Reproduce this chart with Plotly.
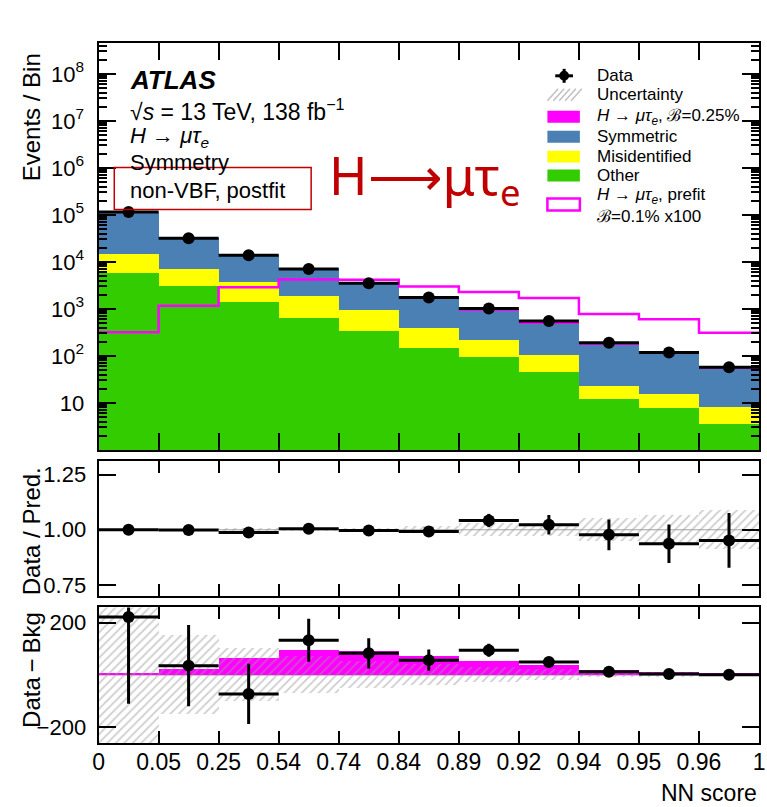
import numpy as np
import plotly.graph_objects as go

# ---------------- data ----------------
edge_labels = ["0", "0.05", "0.25", "0.54", "0.74", "0.84", "0.89", "0.92", "0.94", "0.95", "0.96", "1"]

data_events = [115000, 32000, 13900, 7100, 3500, 1740, 1020, 550, 190, 118, 57]
other = [5900, 3100, 1400, 630, 340, 150, 97, 46, 12, 7.9, 3.6]
misidentified = [9100, 4000, 2400, 1270, 610, 250, 118, 57, 11, 7.9, 4.5]
symmetric = [100000, 24900, 10200, 5070, 2470, 1284, 712, 397, 155, 100, 47]
signal_postfit = [2.5, 23, 63, 95, 91, 70, 52, 38, 16.5, 10, 5]
signal_prefit_x100 = [320, 1170, 2900, 4200, 4150, 3000, 2300, 1700, 780, 600, 310]

ratio = [1.000, 0.999, 0.988, 1.005, 0.997, 0.992, 1.042, 1.023, 0.977, 0.937, 0.952]
ratio_err = [0.003, 0.006, 0.009, 0.012, 0.017, 0.024, 0.030, 0.044, 0.070, 0.087, 0.124]
ratio_unc = [0.004, 0.004, 0.008, 0.006, 0.008, 0.015, 0.030, 0.030, 0.053, 0.065, 0.089]

data_minus_bkg = [222, 36, -72, 133, 83, 57, 95, 50, 13, 4, 1]
data_minus_bkg_err = [332, 155, 115, 82, 58, 41, 25, 12, 6, 4, 3]
bkg_unc = [400, 150, 100, 72, 50, 40, 28, 22, 11, 9, 6]

# ---------------- helpers ----------------
W, H = 767, 807
def px(x):
    return x / W
def py(y):
    return 1 - y / H

nb = len(data_events)
centers = np.arange(nb) + 0.5
edges = np.arange(nb + 1)
other_a = np.array(other, float)
mis_a = np.array(misidentified, float)
sym_a = np.array(symmetric, float)

FONT = "Liberation Sans, Arial, Helvetica, sans-serif"
MAGENTA = "#FF00FF"
BLUE = "#4A80B4"
YELLOW = "#FFFF00"
GREEN = "#33CC00"
HATCH = "#9C9C9C"
RED = "#C00000"

fig = go.Figure()

# ---------------- main panel ----------------
fig.add_trace(go.Bar(x=centers, y=other, width=1, marker=dict(color=GREEN, line=dict(width=0)),
                     xaxis="x", yaxis="y", showlegend=False))
fig.add_trace(go.Bar(x=centers, y=misidentified, base=other_a, width=1,
                     marker=dict(color=YELLOW, line=dict(width=0)), xaxis="x", yaxis="y", showlegend=False))
fig.add_trace(go.Bar(x=centers, y=symmetric, base=other_a + mis_a, width=1,
                     marker=dict(color=BLUE, line=dict(width=0)), xaxis="x", yaxis="y", showlegend=False))
fig.add_trace(go.Bar(x=centers, y=signal_postfit, base=other_a + mis_a + sym_a, width=1,
                     marker=dict(color=MAGENTA, line=dict(width=0)), xaxis="x", yaxis="y", showlegend=False))
fig.add_trace(go.Scatter(x=edges, y=list(signal_prefit_x100) + [signal_prefit_x100[-1]], mode="lines",
                         line=dict(color=MAGENTA, width=2.5, shape="hv"), xaxis="x", yaxis="y", showlegend=False))
fig.add_trace(go.Scatter(x=centers, y=data_events, mode="markers",
                         marker=dict(color="black", size=12),
                         error_x=dict(type="constant", value=0.5, thickness=3, width=0, color="black"),
                         xaxis="x", yaxis="y", showlegend=False))

# ---------------- ratio panel ----------------
ru = np.array(ratio_unc)
fig.add_trace(go.Bar(x=centers, y=2 * ru, base=1 - ru, width=1,
                     marker=dict(color="rgba(0,0,0,0)", line=dict(width=0),
                                 pattern=dict(shape="/", fgcolor=HATCH, bgcolor="rgba(0,0,0,0)",
                                              size=6, solidity=0.3)),
                     xaxis="x2", yaxis="y2", showlegend=False))
fig.add_trace(go.Scatter(x=centers, y=ratio, mode="markers", marker=dict(color="black", size=12),
                         error_x=dict(type="constant", value=0.5, thickness=3, width=0, color="black"),
                         error_y=dict(type="data", array=ratio_err, thickness=3, width=0, color="black"),
                         xaxis="x2", yaxis="y2", showlegend=False))

# ---------------- data - bkg panel ----------------
bu = np.array(bkg_unc)
fig.add_trace(go.Bar(x=centers, y=signal_postfit, width=1, marker=dict(color=MAGENTA, line=dict(width=0)),
                     xaxis="x3", yaxis="y3", showlegend=False))
fig.add_trace(go.Bar(x=centers, y=2 * bu, base=-bu, width=1,
                     marker=dict(color="rgba(0,0,0,0)", line=dict(width=0),
                                 pattern=dict(shape="/", fgcolor=HATCH, bgcolor="rgba(0,0,0,0)",
                                              size=6, solidity=0.3)),
                     xaxis="x3", yaxis="y3", showlegend=False))
fig.add_trace(go.Scatter(x=centers, y=data_minus_bkg, mode="markers", marker=dict(color="black", size=12),
                         error_x=dict(type="constant", value=0.5, thickness=3, width=0, color="black"),
                         error_y=dict(type="data", array=data_minus_bkg_err, thickness=3, width=0, color="black"),
                         xaxis="x3", yaxis="y3", showlegend=False, cliponaxis=True))

# ---------------- axes ----------------
common = dict(showline=True, linecolor="black", linewidth=2, mirror="ticks", ticks="inside",
              tickcolor="black", tickwidth=2, showgrid=False, zeroline=False,
              tickfont=dict(family=FONT, size=22, color="black"))
xdom = [px(94), px(765)]
xcommon = dict(common, domain=xdom, range=[0, nb], tickmode="array", tickvals=list(range(nb + 1)))

minor_vals = [k * 10 ** n for n in range(0, 9) for k in range(2, 10) if np.log10(k * 10 ** n) < 8.66]

fig.update_layout(
    width=W, height=H, margin=dict(l=0, r=0, t=0, b=0),
    paper_bgcolor="white", plot_bgcolor="white", barmode="overlay", bargap=0,
    font=dict(family=FONT, color="black"),
    xaxis=dict(xcommon, anchor="y", ticklen=17, showticklabels=False),
    xaxis2=dict(xcommon, anchor="y2", ticklen=12, showticklabels=False, matches="x"),
    xaxis3=dict(xcommon, anchor="y3", ticklen=12, showticklabels=True, ticktext=edge_labels,
                ticklabelstandoff=-3, ticklabeloverflow="allow",
                tickfont=dict(family=FONT, size=23, color="black"), matches="x"),
    yaxis=dict(common, anchor="x", domain=[py(451), py(43)], type="log", range=[0, 8.66],
               tickmode="array", tickvals=[10 ** k for k in range(1, 9)],
               ticktext=["10"] + ["10<sup>%d</sup>" % k for k in range(2, 9)],
               ticklen=17, ticklabelstandoff=8,
               minor=dict(ticks="inside", ticklen=8, tickcolor="black", tickwidth=1.5,
                          tickmode="array", tickvals=minor_vals, showgrid=False)),
    yaxis2=dict(common, anchor="x2", domain=[py(597.5), py(462.5)], range=[0.70, 1.31],
                tickmode="array", tickvals=[0.75, 1.0, 1.25], ticktext=["0.75", "1.00", "1.25"],
                ticklen=17, ticklabelstandoff=6),
    yaxis3=dict(common, anchor="x3", domain=[py(745), py(609)], range=[-260, 258],
                tickmode="array", tickvals=[-200, 200], ticktext=["\u2212200", "200"],
                ticklen=17, ticklabelstandoff=6),
)

shapes = []
# reference lines
shapes.append(dict(type="line", xref="x2 domain", yref="y2", x0=0, x1=1, y0=1, y1=1,
                   line=dict(color="#A0A0A0", width=1), layer="below"))
shapes.append(dict(type="line", xref="x3 domain", yref="y3", x0=0, x1=1, y0=0, y1=0,
                   line=dict(color="#A0A0A0", width=1), layer="below"))
# red box around category label
shapes.append(dict(type="rect", xref="paper", yref="paper", x0=px(110), x1=px(310), y0=py(210), y1=py(168),
                   line=dict(color=RED, width=1.5)))

# ---------------- legend (manual) ----------------
lx0, lx1 = 550, 583
# data symbol
shapes.append(dict(type="line", xref="paper", yref="paper", x0=px(558), x1=px(576), y0=py(76), y1=py(76),
                   line=dict(color="black", width=3)))
shapes.append(dict(type="line", xref="paper", yref="paper", x0=px(567), x1=px(567), y0=py(69), y1=py(83),
                   line=dict(color="black", width=3)))
shapes.append(dict(type="circle", xref="paper", yref="paper", x0=px(562), x1=px(572), y0=py(81), y1=py(71),
                   fillcolor="black", line=dict(color="black", width=0)))
# uncertainty hatch swatch
for xs in range(lx0, lx1 - 8, 6):
    shapes.append(dict(type="line", xref="paper", yref="paper", x0=px(xs), x1=px(xs + 11),
                       y0=py(101), y1=py(89), line=dict(color="#C0C0C0", width=1.5)))
# filled swatches
for col, yc in [(MAGENTA, 117), (BLUE, 137), (YELLOW, 157), (GREEN, 176)]:
    shapes.append(dict(type="rect", xref="paper", yref="paper", x0=px(lx0), x1=px(lx1),
                       y0=py(yc + 6), y1=py(yc - 6), fillcolor=col, line=dict(width=0)))
shapes.append(dict(type="rect", xref="paper", yref="paper", x0=px(lx0), x1=px(lx1),
                   y0=py(211), y1=py(199), line=dict(color=MAGENTA, width=2.5)))
fig.update_layout(shapes=shapes)

ann = []
def text(x, y, s, size=17, xanchor="left", yanchor="middle", angle=0, color="black", family=FONT):
    ann.append(dict(x=px(x), y=py(y), xref="paper", yref="paper", text=s, showarrow=False,
                    xanchor=xanchor, yanchor=yanchor, textangle=angle,
                    font=dict(size=size, color=color, family=family)))

leg = [("Data", 76), ("Uncertainty", 95),
       ("<i>H</i> \u2192 <i>\u03bc\u03c4<sub>e</sub></i>, \u212c=0.25%", 117),
       ("Symmetric", 137), ("Misidentified", 157), ("Other", 176),
       ("<i>H</i> \u2192 <i>\u03bc\u03c4<sub>e</sub></i>, prefit", 196), ("\u212c=0.1% x100", 217)]
for s, y in leg:
    text(598, y, s, size=17)

# ATLAS label block
text(124, 80, "<b><i>ATLAS</i></b>", size=26)
text(124, 110, "\u221a<i>s</i> = 13 TeV, 138 fb<sup>\u22121</sup>", size=23)
text(124, 137, "<i>H</i> \u2192 <i>\u03bc\u03c4<sub>e</sub></i>", size=22)
text(124, 163, "Symmetry", size=22)
text(124, 191, "non-VBF, postfit", size=22)

# big red title
text(326, 178, "H\u27f6\u03bc\u03c4<sub>e</sub>", size=52, color=RED, family="Noto Sans, Open Sans, sans-serif")

# axis titles
text(26, 118, "Events / Bin", size=24, xanchor="center", angle=-90)
text(26, 533, "Data / Pred.", size=24, xanchor="center", angle=-90)
text(26, 672, "Data\u2009\u2212\u2009Bkg", size=24, xanchor="center", angle=-90)
text(765, 795, "NN score", size=23, xanchor="right")

fig.update_layout(annotations=ann)

fig.write_html("out.html")
